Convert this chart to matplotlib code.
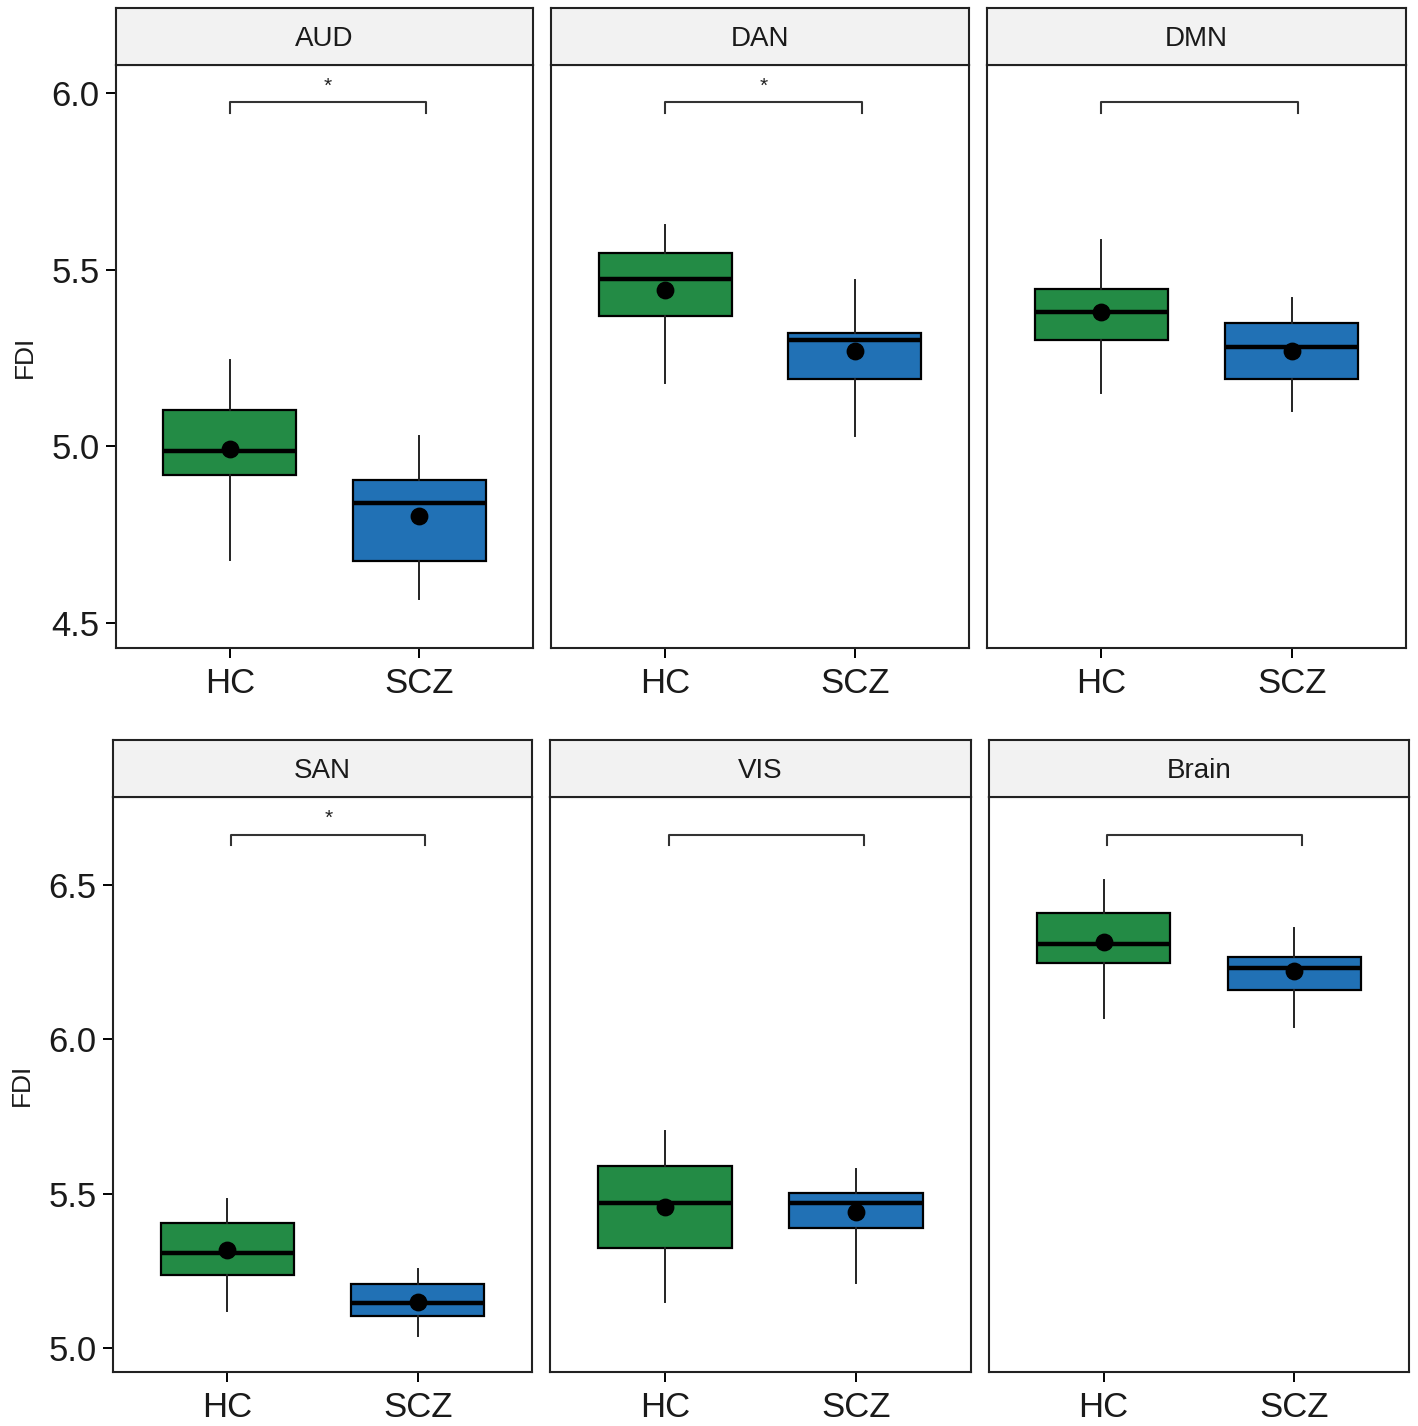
import matplotlib
matplotlib.use("Agg")
import matplotlib.pyplot as plt

plt.rcParams['font.family'] = ['Liberation Sans', 'DejaVu Sans']

# networks shown in each facet, top row then bottom row
networks = ['AUD', 'DAN', 'DMN', 'SAN', 'VIS', 'Brain']
groups = ['HC', 'SCZ']

# box statistics: [HC, SCZ]
whis_lo = [[4.68, 4.57], [5.18, 5.03], [5.15, 5.10], [5.12, 5.04], [5.15, 5.21], [6.07, 6.04]]
q1 = [[4.92, 4.675], [5.37, 5.19], [5.30, 5.19], [5.235, 5.105], [5.325, 5.387], [6.248, 6.16]]
med = [[4.986, 4.839], [5.475, 5.302], [5.379, 5.28], [5.309, 5.144], [5.471, 5.468], [6.309, 6.231]]
q3 = [[5.102, 4.904], [5.548, 5.322], [5.446, 5.35], [5.406, 5.206], [5.591, 5.503], [6.409, 6.267]]
whis_hi = [[5.246, 5.031], [5.627, 5.472], [5.585, 5.421], [5.484, 5.257], [5.704, 5.581], [6.516, 6.361]]
means = [[4.992, 4.802], [5.443, 5.271], [5.379, 5.271], [5.316, 5.150], [5.458, 5.439], [6.316, 6.222]]
signif = [True, True, False, True, False, False]

# per-row y limits, ticks and bracket placement
row_ylim = [(4.43, 6.079), (4.922, 6.785)]
row_ticks = [[4.5, 5.0, 5.5, 6.0], [5.0, 5.5, 6.0, 6.5]]
row_bracket = [(5.975, 5.944), (6.663, 6.630)]
row_bracket_x = [(1.0, 2.035), (1.02, 2.04)]
row_star = [6.02, 6.715]

colors = ['#238B45', '#2171B5']

W, H = 1418, 1426
fig = plt.figure(figsize=(W / 100, H / 100), dpi=100)

# panel boxes in pixels: (left, right, top, bottom)
panel_px = [
    (116, 533, 65, 648), (551, 969, 65, 648), (987, 1406, 65, 648),
    (113, 532, 797, 1372), (550, 971, 797, 1372), (989, 1409, 797, 1372),
]
strip_h = 57

for i, name in enumerate(networks):
    row = i // 3
    l, r, t, b = panel_px[i]
    ax = fig.add_axes([l / W, 1 - b / H, (r - l) / W, (b - t) / H])
    st = fig.add_axes([l / W, 1 - t / H, (r - l) / W, strip_h / H])

    stats = []
    for g in range(2):
        stats.append(dict(whislo=whis_lo[i][g], q1=q1[i][g], med=med[i][g],
                          q3=q3[i][g], whishi=whis_hi[i][g], mean=means[i][g],
                          fliers=[]))
    bp = ax.bxp(stats, positions=[1, 2], widths=0.7, patch_artist=True,
                showcaps=False, showfliers=False,
                boxprops=dict(linewidth=1.6, edgecolor='black'),
                whiskerprops=dict(linewidth=1.4, color='#222222'),
                medianprops=dict(linewidth=3.2, color='black'))
    for patch, c in zip(bp['boxes'], colors):
        patch.set_facecolor(c)
    ax.scatter([1, 2], means[i], s=140, color='black', zorder=5)

    # significance bracket
    y1, y0 = row_bracket[row]
    xa, xb = row_bracket_x[row]
    ax.plot([xa, xa, xb, xb], [y0, y1, y1, y0], color='#333333', lw=1.5)
    if signif[i]:
        ax.text((xa + xb) / 2, row_star[row], '*', ha='center', va='center',
                fontsize=15, color='#222222')

    ax.set_xlim(0.4, 2.6)
    ax.set_ylim(*row_ylim[row])
    ax.set_xticks([1, 2])
    ax.set_xticklabels(groups, fontsize=25, color='#1a1a1a')
    ax.tick_params(axis='x', length=7, width=1.4, pad=7)
    if i % 3 == 0:
        ax.set_yticks(row_ticks[row])
        ax.set_yticklabels([f'{v:.1f}' for v in row_ticks[row]], fontsize=25, color='#1a1a1a')
        ax.tick_params(axis='y', length=7, width=1.4, pad=5)
        ax.set_ylabel('FDI', fontsize=19, color='#1a1a1a', labelpad=10)
    else:
        ax.set_yticks([])
    for sp in ax.spines.values():
        sp.set_linewidth(1.5)
        sp.set_color('#222222')

    st.set_facecolor('#F2F2F2')
    st.set_xticks([])
    st.set_yticks([])
    for sp in st.spines.values():
        sp.set_linewidth(1.5)
        sp.set_color('#222222')
    st.text(0.5, 0.45, name, ha='center', va='center', fontsize=20,
            color='#1a1a1a', transform=st.transAxes)

fig.savefig('out.png', dpi=100)
